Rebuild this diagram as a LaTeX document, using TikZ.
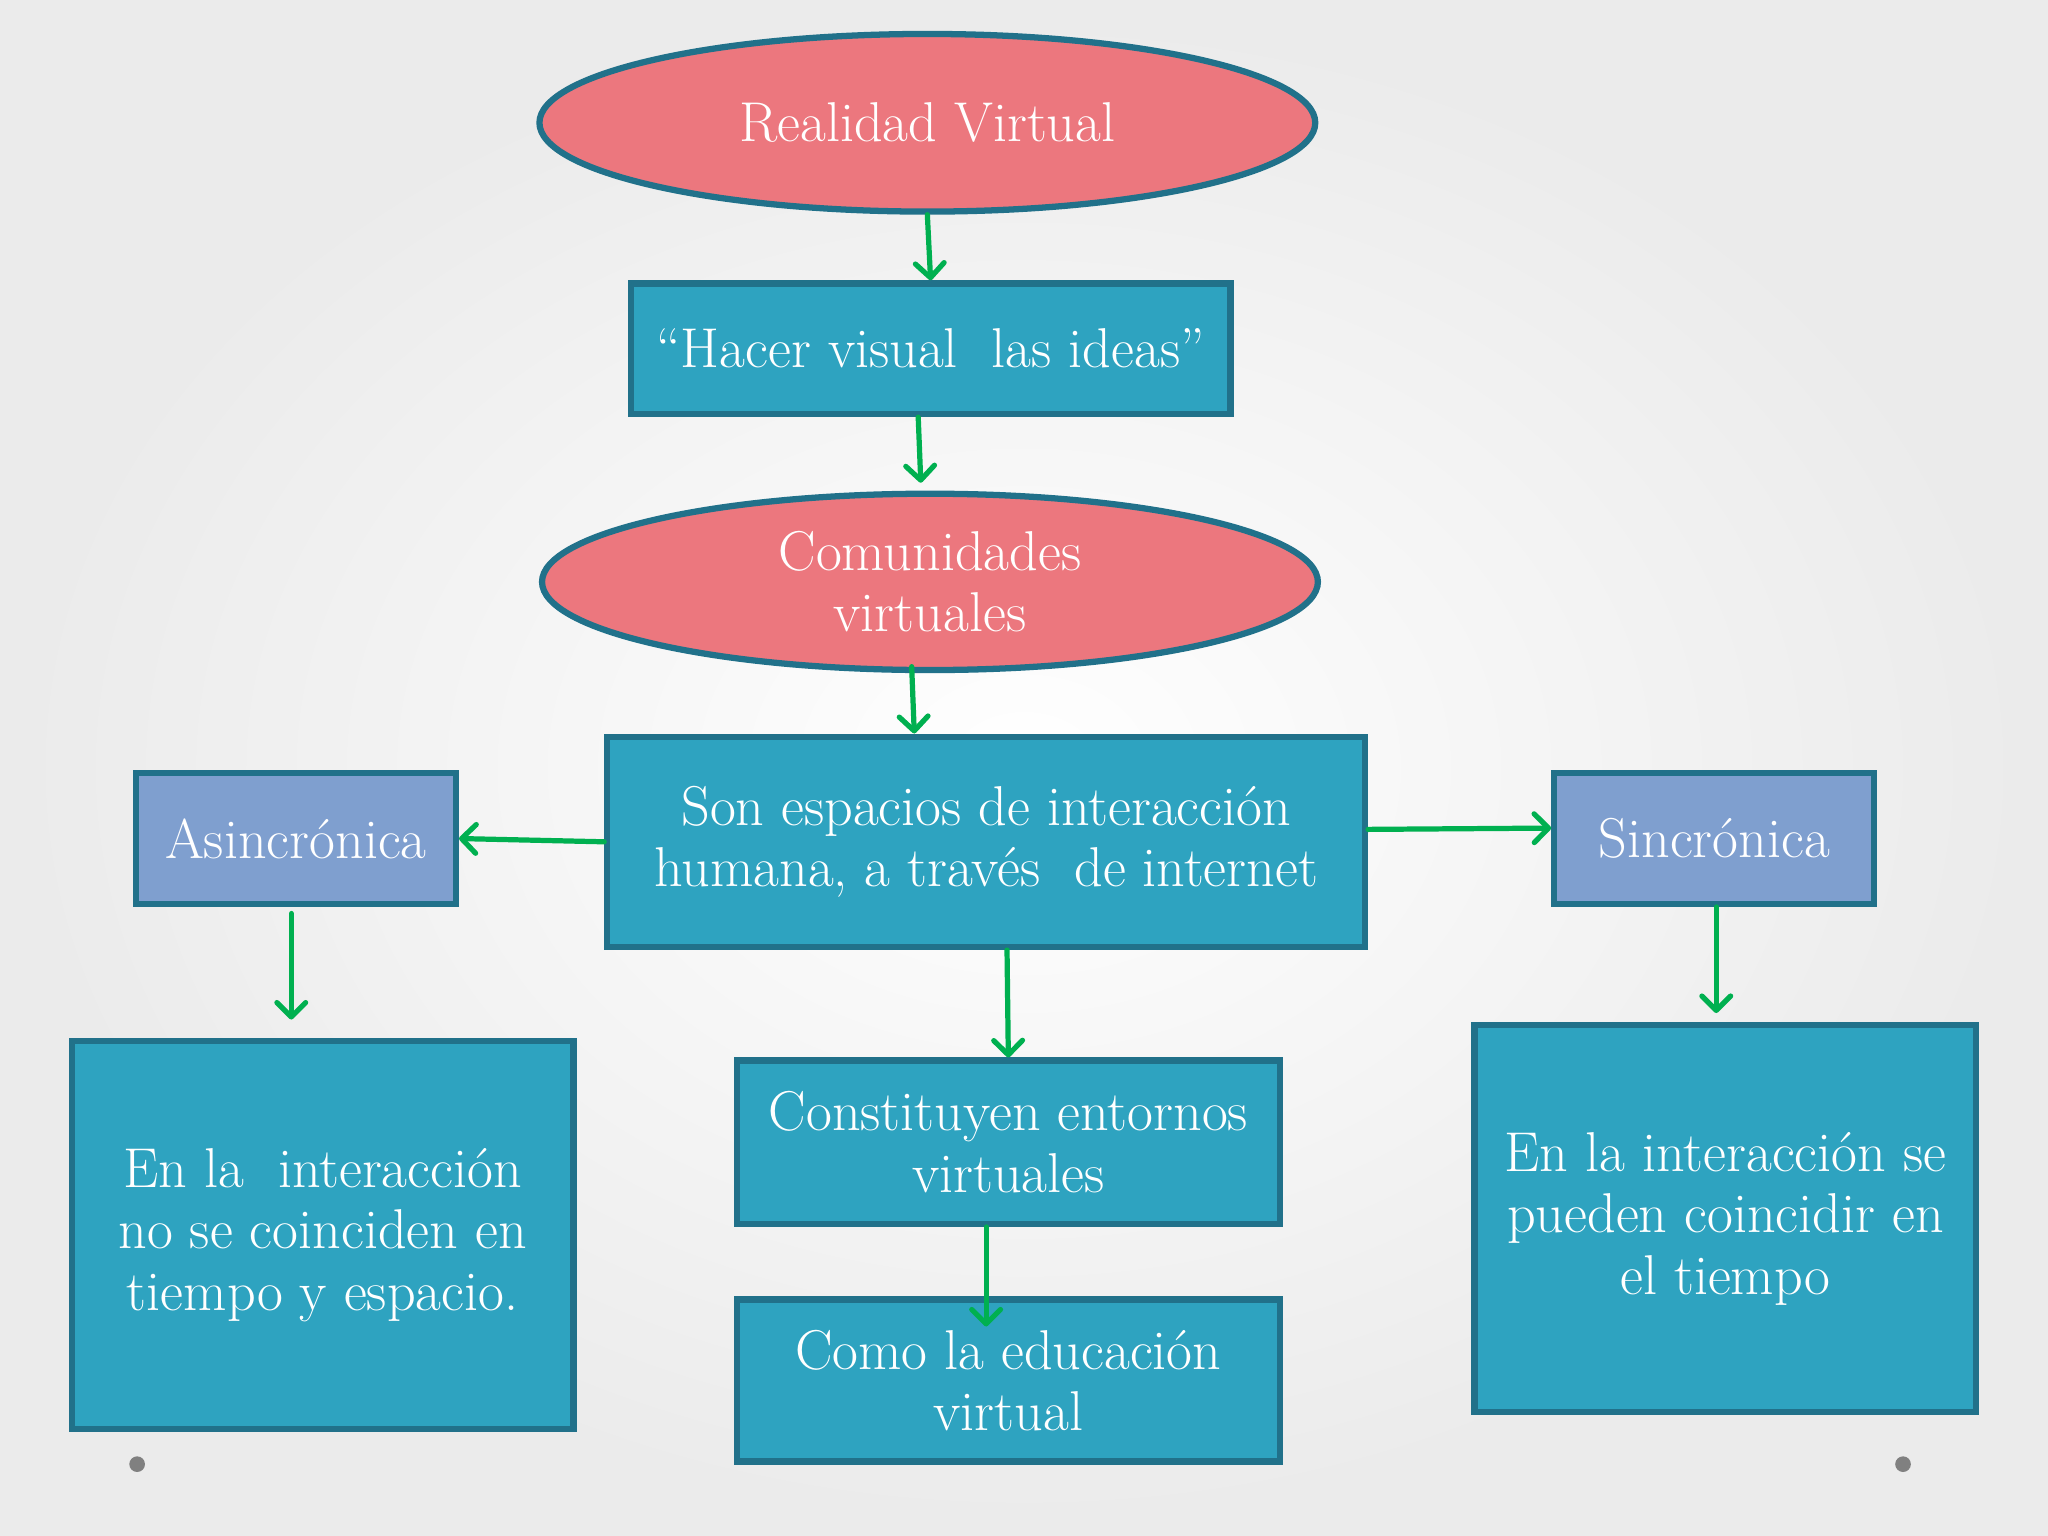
\documentclass[tikz,border=0pt]{standalone}
\usetikzlibrary{shapes.geometric,arrows.meta}

\definecolor{rosa}{RGB}{236,119,126}
\definecolor{borde}{RGB}{33,113,138}
\definecolor{turquesa}{RGB}{46,163,192}
\definecolor{lila}{RGB}{127,159,207}
\definecolor{verde}{RGB}{0,176,80}

\tikzset{
  ovalo/.style={ellipse, draw=borde, fill=rosa, line width=2.4pt, inner sep=0pt,
    text=white, align=center, font=\fontsize{21.5}{23.5}\selectfont},
  caja/.style={rectangle, draw=borde, fill=turquesa, line width=2.4pt, inner sep=0pt,
    text=white, align=center, font=\fontsize{21.5}{23.5}\selectfont},
  cajalila/.style={caja, fill=lila},
  flecha/.style={draw=verde, line width=2pt, line cap=round,
    -{Straight Barb[length=5.5pt,width=11pt,round]}}
}

\begin{document}
\begin{tikzpicture}[x=0.5pt,y=-0.5pt]
                    % Background
                    \shade [inner color=white, outer color=black!8] (0,0) rectangle (1568,1176);%

                    % Marking ellipse Realidad Virtual
                    \node [ovalo, minimum width=297pt, minimum height=68pt] (realidad) at (710,94) {Realidad Virtual};%

                    % Marking box Hacer visual
                    \node [caja, minimum width=229.5pt, minimum height=50pt] (hacer) at (712.5,267) {“Hacer visual\ \ las ideas”};%

                    % Marking ellipse Comunidades virtuales
                    \node [ovalo, minimum width=297pt, minimum height=67.5pt] (comunidades) at (712,445.5) {Comunidades\\virtuales};%

                    % Marking box Son espacios
                    \node [caja, minimum width=290pt, minimum height=80.5pt] (son) at (755,644.5) {Son espacios de interacción\\humana, a través\ \ de internet};%

                    % Marking box Asincronica
                    \node [cajalila, minimum width=122.5pt, minimum height=50pt] (asinc) at (226.5,642) {Asincrónica};%

                    % Marking box Sincronica
                    \node [cajalila, minimum width=122.5pt, minimum height=50pt] (sinc) at (1312.5,642) {Sincrónica};%

                    % Marking box left
                    \node [caja, minimum width=192pt, minimum height=148.5pt] (izquierda) at (247,945.5) {En la\ \ interacción\\no se coinciden en\\tiempo y espacio.};%

                    % Marking box Constituyen
                    \node [caja, minimum width=208pt, minimum height=62.5pt] (constituyen) at (772,874.5) {Constituyen entornos\\virtuales};%

                    % Marking box Como la educacion
                    \node [caja, minimum width=208pt, minimum height=62pt] (como) at (772,1057) {Como la educación\\virtual};%

                    % Marking box right
                    \node [caja, minimum width=192pt, minimum height=148pt] (derecha) at (1321,933) {En la interacción se\\pueden coincidir en\\el tiempo};%

                    % Drawing arrows
                    \draw [flecha] (realidad.south) -- (hacer.north);%
                    \draw [flecha] ([xshift=-4.75pt]hacer.south) -- ([xshift=-3.5pt,yshift=3pt]comunidades.north);%
                    \draw [flecha] ([xshift=-7pt,yshift=2.5pt]comunidades.south) -- ([xshift=-27.5pt]son.north);%
                    \draw [flecha] (son.west) -- (asinc.east);%
                    \draw [flecha] ([yshift=4.75pt]son.east) -- ([yshift=4pt]sinc.west);%
                    \draw [flecha] ([xshift=8pt]son.south) -- (constituyen.north);%
                    \draw [flecha] ([xshift=-1.75pt,yshift=-2.5pt]asinc.south) -- ([xshift=-12pt,yshift=7pt]izquierda.north);%
                    \draw [flecha] ([xshift=0.75pt]sinc.south) -- ([xshift=-3.5pt,yshift=3.5pt]derecha.north);%
                    \draw [flecha] ([xshift=-8.5pt]constituyen.south) -- ([xshift=-8.5pt,yshift=-11.5pt]como.north);%

                    % Marking dots
                    \fill [black!50] (105,1121) circle (6);%
                    \fill [black!50] (1457,1121) circle (6);%
\end{tikzpicture}
\end{document}
